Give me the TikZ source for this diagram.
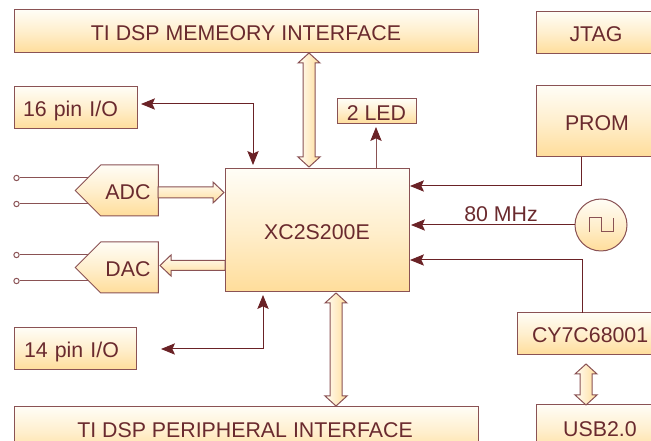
\documentclass[tikz,border=0pt]{standalone}
\usepackage{fontspec}
\setmainfont{Liberation Sans}
\usetikzlibrary{calc,arrows.meta,shapes.symbols}
\definecolor{ink}{HTML}{6A2A2E}
\definecolor{edge}{HTML}{8A5254}
\definecolor{wire}{HTML}{8A5254}
\definecolor{darkline}{HTML}{6A2226}
\definecolor{light}{HTML}{FFFDF6}
\definecolor{warm}{HTML}{FFDD9A}
\tikzset{
  x=0.75pt,y=-0.75pt,
  headtip/.style={Stealth[length=10.5pt,width=8.5pt,inset=2pt,color=darkline]},
  fill box/.style={draw=edge,line width=0.75pt,top color=light,bottom color=warm,middle color=light!55!warm},
  box/.style n args={2}{fill box,rectangle,inner sep=0pt,minimum width=#1*0.75pt,minimum height=#2*0.75pt,text=ink,text height=13pt,text depth=0pt,font=\fontsize{16pt}{19pt}\selectfont},
  lbox/.style n args={3}{box={#1}{#2},text width=(#1-2*#3)*0.75pt,inner xsep=#3*0.75pt,align=left},
  lab/.style={text=ink,inner sep=0pt,text height=13pt,text depth=0pt,font=\fontsize{16pt}{19pt}\selectfont},
  adda/.style={fill box,signal,signal to=west,signal from=nowhere,signal pointer angle=90,inner sep=0pt,minimum width=83*0.75pt,minimum height=51*0.75pt},
  wireline/.style={draw=wire,line width=0.75pt},
  dk/.style={draw=darkline,line width=0.75pt},
  tip/.style={-{Stealth[length=10.5pt,width=8.5pt,inset=2pt,color=darkline]}},
  tips/.style={{Stealth[length=10.5pt,width=8.5pt,inset=2pt,color=darkline]}-{Stealth[length=10.5pt,width=8.5pt,inset=2pt,color=darkline]}},
  pin/.style={circle,draw=edge,fill=white,line width=0.75pt,inner sep=0pt,minimum size=4pt},
  vblk/.style={draw=edge,line width=0.75pt,left color=light,right color=warm},
  hblk/.style={draw=edge,line width=0.75pt,top color=light,bottom color=warm},
}
% vertical double block arrow between two points: half-shaft, half-head, head length (px)
\newcommand\vdouble[5]{\path[vblk] let \p1=(#1),\p2=(#2),\n1={#3*0.75pt},\n2={#4*0.75pt},\n3={#5*0.75pt} in
  (\x1,\y1) -- (\x1+\n2,\y1-\n3) -- (\x1+\n1,\y1-\n3) -- (\x1+\n1,\y2+\n3) -- (\x1+\n2,\y2+\n3) -- (\x1,\y2)
  -- (\x1-\n2,\y2+\n3) -- (\x1-\n1,\y2+\n3) -- (\x1-\n1,\y1-\n3) -- (\x1-\n2,\y1-\n3) -- cycle;}
% horizontal single block arrow from first point (tail) to second (tip)
\newcommand\hsingle[6]{\path[hblk] let \p1=(#1),\p2=(#2),\n1={#3*0.75pt},\n2={#4*0.75pt},\n3={#5*#6*0.75pt} in
  (\x1,\y1+\n1) -- (\x2-\n3,\y1+\n1) -- (\x2-\n3,\y1+\n2) -- (\x2,\y1) -- (\x2-\n3,\y1-\n2) -- (\x2-\n3,\y1-\n1) -- (\x1,\y1-\n1) -- cycle;}
\begin{document}
\begin{tikzpicture}
\useasboundingbox (0,0) rectangle (651,441);
\clip (0,0) rectangle (651,441);
% boxes
\node[box={464}{43}] (mem) at (246,31.5) {TI DSP MEMEORY INTERFACE};
\node[box={464}{50}] (per) at (246,432) {};
\node[lab] (perl) at (245,429) {TI DSP PERIPHERAL INTERFACE};
\node[box={120}{42}] (jtag) at (596,33) {JTAG};
\node[box={122}{71}] (prom) at (597,121.5) {PROM};
\node[lbox={123}{42}{9}] (pin16) at (75.5,108) {16 pin I/O};
\node[lbox={122}{42}{10}] (pin14) at (75,349) {14 pin I/O};
\node[box={79}{25}] (led) at (376.5,111.5) {2 LED};
\node[box={184}{123}] (fpga) at (317,230.5) {XC2S200E};
\node[lbox={140}{42}{15}] (cy) at (587,334) {CY7C68001};
\node[box={128}{50}] (usb) at (600,430) {};
\node[lab] (usbl) at (600,428) {USB2.0};
% input pins and their wires, under the converters
\node[pin] (a1) at (16.5,178) {};
\node[pin] (a2) at (16.5,204) {};
\node[pin] (d1) at (16.5,255) {};
\node[pin] (d2) at (16.5,281) {};
\coordinate (a1e) at (95,178);
\coordinate (a2e) at (95,204);
\coordinate (d1e) at (95,255);
\coordinate (d2e) at (95,281);
\draw[wireline] (a1) -- (a1e);
\draw[wireline] (a2) -- (a2e);
\draw[wireline] (d1) -- (d1e);
\draw[wireline] (d2) -- (d2e);
% converters
\node[adda] (adc) at (129.5,190.5) {};
\node[lab] (adcl) at (128,191) {ADC};
\node[adda] (dac) at (129.5,267.5) {};
\node[lab] (dacl) at (128,268) {DAC};
% oscillator
\node[circle,fill box,inner sep=0pt,minimum size=52*0.75pt] (osc) at (601,225) {};
\draw[wireline,line cap=butt] ($(osc.center)+(-12,7)$) -- ++(0,-14) -- ++(12,0) -- ++(0,14) -- ++(12,0) -- ++(0,-14);
\node[lab] (mhz) at (501,213) {80 MHz};
% thin connectors
\coordinate (c16) at (253,104);
\coordinate (c16a) at (141,104);
\coordinate (c16b) at (253,165);
\draw[tips,dk] (c16a) -- (c16) -- (c16b);
\coordinate (c14) at (263,349);
\coordinate (c14a) at (161,349);
\coordinate (c14b) at (263,295);
\draw[tips,dk] (c14a) -- (c14) -- (c14b);
\coordinate (lf) at (376,169);
\coordinate (lt) at (376,127);
\draw[tip,wireline] (lf) -- (lt);
\coordinate (pa) at (581,157);
\coordinate (pb) at (581,186);
\coordinate (pc) at (410,186);
\draw[tip,dk] (pa) -- (pb) -- (pc);
\coordinate (oc) at (411,225);
\draw[tip,dk] (osc.west) -- (oc);
\coordinate (ca) at (582,313);
\coordinate (cb) at (582,260);
\coordinate (cc) at (410,260);
\draw[tip,dk] (ca) -- (cb) -- (cc);
% block arrows
\coordinate (m1) at (309,53);
\coordinate (m2) at (309,167);
\vdouble{m1}{m2}{6}{11}{10}
\coordinate (p1) at (336,293);
\coordinate (p2) at (336,406);
\vdouble{p1}{p2}{6}{11}{10}
\coordinate (u1) at (586,364);
\coordinate (u2) at (586,405);
\vdouble{u1}{u2}{6}{11}{10}
\coordinate (at) at (158,192.5);
\coordinate (ah) at (224,192.5);
\hsingle{at}{ah}{5.5}{10.5}{11}{1}
\coordinate (dt) at (225,265.5);
\coordinate (dh) at (160,265.5);
\hsingle{dt}{dh}{5}{10.5}{11}{-1}
\end{tikzpicture}
\end{document}
